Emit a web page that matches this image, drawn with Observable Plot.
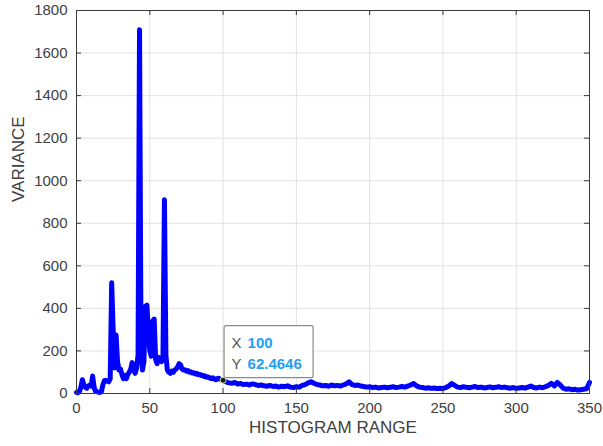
<!DOCTYPE html>
<html>
<head>
<meta charset="utf-8">
<script src="https://cdn.jsdelivr.net/npm/d3@7"></script>
<script src="https://cdn.jsdelivr.net/npm/@observablehq/plot@0.6"></script>
<style>
  html, body { margin: 0; padding: 0; background: #fff; }
  #chart { width: 603px; height: 446px; }
</style>
</head>
<body>
<div id="chart"></div>
<script>
// ---- data ----
const xLabel = "HISTOGRAM RANGE";
const yLabel = "VARIANCE";
const xTicks = [0, 50, 100, 150, 200, 250, 300, 350];
const yTicks = [0, 200, 400, 600, 800, 1000, 1200, 1400, 1600, 1800];

// variance for histogram range 0..100 (step 1)
const headStart = 0, headStep = 1;
const headVariance = [
  5, 3, 10, 30, 65, 40, 30, 25, 35, 40,
  35, 82, 30, 10, 8, 6, 5, 8, 40, 60,
  62, 58, 55, 70, 520, 300, 120, 275, 150, 110,
  115, 90, 70, 85, 70, 90, 100, 115, 145, 110,
  95, 120, 180, 1710, 250, 110, 150, 410, 415, 300,
  200, 175, 340, 350, 160, 140, 170, 160, 150, 170,
  910, 180, 110, 100, 95, 105, 100, 110, 115, 125,
  140, 135, 115, 110, 112, 105, 108, 100, 102, 96,
  98, 92, 95, 88, 90, 85, 86, 80, 82, 76,
  78, 72, 70, 74, 68, 65, 70, 72, 66, 64,
  62.4646
];

// variance for histogram range 102..350 (step 2)
const tailStart = 102, tailStep = 2;
const tailVariance = [
  55, 50, 48, 52, 45, 47, 42, 44, 40, 45,
  42, 38, 40, 36, 34, 38, 33, 35, 30, 34,
  32, 36, 30, 28, 32, 30, 38, 42, 50, 55,
  48, 42, 40, 36, 38, 34, 40, 36, 38, 35,
  40, 45, 55, 42, 38, 40, 35, 33, 30, 32,
  28, 30, 26, 28, 30, 27, 29, 32, 28, 30,
  33, 30, 35, 40, 47, 36, 30, 28, 25, 27,
  24, 26, 23, 25, 24, 28, 35, 47, 38, 30,
  28, 32, 29, 27, 30, 33, 28, 30, 26, 28,
  31, 27, 29, 32, 28, 30, 27, 25, 28, 24,
  26, 28, 25, 30, 35, 28, 26, 30, 27, 32,
  38, 48, 35, 52, 40, 25, 20, 22, 18, 20,
  16, 18, 20, 22, 52
];

// data tip
const tipPoint = {x: 100, y: 62.4646};
const tipXText = "100";
const tipYText = "62.4646";

const series = [
  ...headVariance.map((v, i) => ({x: headStart + i * headStep, y: v})),
  ...tailVariance.map((v, i) => ({x: tailStart + i * tailStep, y: v}))
];

// ---- layout ----
const W = 603, H = 446;
const mL = 76, mR = 14, mT = 10, mB = 53;
const plotW = W - mL - mR, plotH = H - mT - mB;
const axisColor = "#3a3a3a";
const textColor = "#404040";
const gridColor = "#e2e2e2";
const font = "'Liberation Sans', Arial, Helvetica, sans-serif";

const chart = Plot.plot({
  width: W,
  height: H,
  marginLeft: mL, marginRight: mR, marginTop: mT, marginBottom: mB,
  style: {fontFamily: font, background: "#fff", overflow: "visible"},
  x: {domain: [0, 350]},
  y: {domain: [0, 1800]},
  marks: [
    Plot.gridX(xTicks, {stroke: gridColor, strokeOpacity: 1}),
    Plot.gridY(yTicks, {stroke: gridColor, strokeOpacity: 1}),
    Plot.line(series, {x: "x", y: "y", stroke: "#0000ff", strokeWidth: 5, strokeLinejoin: "round", strokeLinecap: "round"}),
    Plot.frame({stroke: axisColor, strokeWidth: 1}),
    // inward ticks (MATLAB style), all four sides
    Plot.tickX(xTicks, {x: d => d, insetTop: plotH - 5, stroke: axisColor}),
    Plot.tickX(xTicks, {x: d => d, insetBottom: plotH - 5, stroke: axisColor}),
    Plot.tickY(yTicks, {y: d => d, insetRight: plotW - 5, stroke: axisColor}),
    Plot.tickY(yTicks, {y: d => d, insetLeft: plotW - 5, stroke: axisColor}),
    Plot.axisX(xTicks, {tickSize: 0, tickPadding: 9, fontSize: 15, fill: textColor, label: null, tickFormat: d => String(d)}),
    Plot.axisY(yTicks, {tickSize: 0, tickPadding: 9, fontSize: 15, fill: textColor, label: null, tickFormat: d => String(d)}),
    Plot.text([xLabel], {frameAnchor: "bottom", dy: 39, text: d => d, fontSize: 17, fill: textColor}),
    Plot.text([yLabel], {frameAnchor: "left", dx: -58, rotate: -90, text: d => d, fontSize: 17, fill: textColor}),
    Plot.dot([tipPoint], {x: "x", y: "y", r: 3, fill: "#1a1a1a", stroke: "#e8e4b0", strokeWidth: 1})
  ]
});

// data tip box anchored on the data point via the scales
const sx = chart.scale("x"), sy = chart.scale("y");
const px = sx.apply(tipPoint.x), py = sy.apply(tipPoint.y);
const svg = d3.select(chart);
const g = svg.append("g").attr("font-family", font).attr("text-anchor", "start");
g.append("rect")
  .attr("x", px + 1.5).attr("y", py - 54)
  .attr("width", 89).attr("height", 52)
  .attr("rx", 2)
  .attr("fill", "#fff")
  .attr("stroke", "#8a8a8a")
  .attr("stroke-width", 1.2);
const rows = [["X", tipXText, py - 32], ["Y", tipYText, py - 11]];
for (const [k, v, yy] of rows) {
  g.append("text").attr("x", px + 9).attr("y", yy).attr("text-anchor", "start")
    .attr("font-size", 15).attr("fill", "#555").text(k);
  g.append("text").attr("x", px + 25).attr("y", yy).attr("text-anchor", "start")
    .attr("font-size", 15).attr("font-weight", "bold").attr("fill", "#1ea0f5").text(v);
}
// keep the data dot above the box edge
svg.node().appendChild(svg.select("g[aria-label='dot']").node());

document.getElementById("chart").appendChild(chart);
</script>
</body>
</html>
